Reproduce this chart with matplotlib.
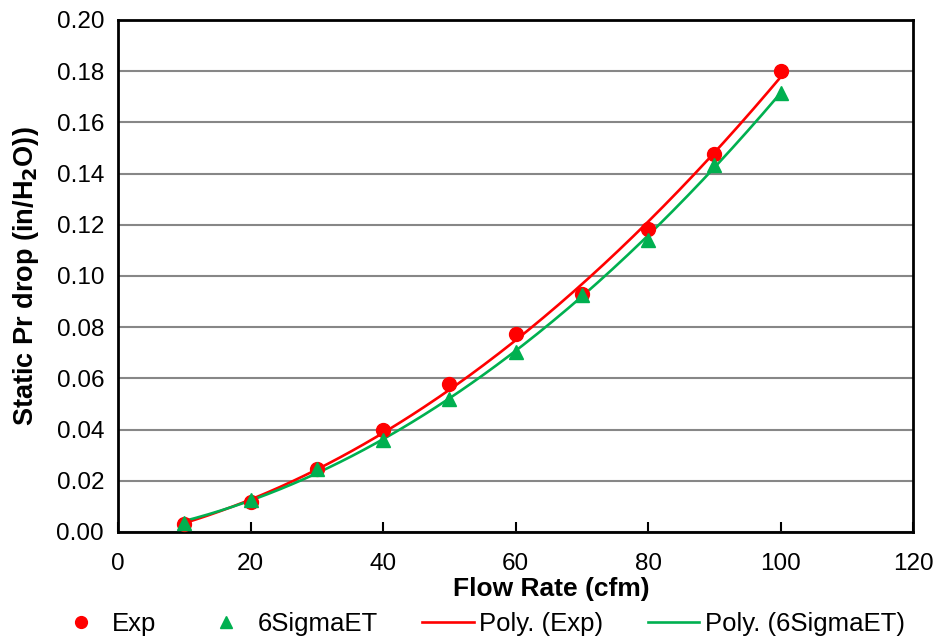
import matplotlib.pyplot as plt
import numpy as np

# ---------------------------------------------------------------------------
# Data
# ---------------------------------------------------------------------------
flow_rate = [10, 20, 30, 40, 50, 60, 70, 80, 90, 100]
exp_drop = [0.0030, 0.0117, 0.0246, 0.0398, 0.0578, 0.0773, 0.0930, 0.1184, 0.1477, 0.1800]
sigma_drop = [0.0035, 0.0125, 0.0245, 0.0359, 0.0520, 0.0703, 0.0926, 0.1140, 0.1434, 0.1715]

x_ticks = [0, 20, 40, 60, 80, 100, 120]
y_ticks = [0.00, 0.02, 0.04, 0.06, 0.08, 0.10, 0.12, 0.14, 0.16, 0.18, 0.20]

RED = '#ff0000'
GREEN = '#00b050'

plt.rcParams['font.family'] = ['Liberation Sans', 'DejaVu Sans']

fig = plt.figure(figsize=(9.37, 6.42), dpi=100)
ax = fig.add_axes([118 / 937, 1 - 532 / 642, (913 - 118) / 937, (532 - 20) / 642])

ax.plot(flow_rate, exp_drop, 'o', color=RED, markersize=10, label='Exp', zorder=4)
ax.plot(flow_rate, sigma_drop, '^', color=GREEN, markersize=10, label='6SigmaET', zorder=4)

# 2nd order polynomial trendlines
xs = np.linspace(flow_rate[0], flow_rate[-1], 200)
p_exp = np.polyfit(flow_rate, exp_drop, 2)
p_sig = np.polyfit(flow_rate, sigma_drop, 2)
ax.plot(xs, np.polyval(p_exp, xs), color=RED, lw=1.9, label='Poly. (Exp)', zorder=3)
ax.plot(xs, np.polyval(p_sig, xs), color=GREEN, lw=1.9, label='Poly. (6SigmaET)', zorder=3)

ax.set_xlim(0, 120)
ax.set_ylim(0, 0.20)
ax.set_xticks(x_ticks)
ax.set_yticks(y_ticks)
ax.set_yticklabels([f'{v:.2f}' for v in y_ticks], fontsize=17.5)
ax.set_xticklabels([str(v) for v in x_ticks], fontsize=17.5)
ax.tick_params(axis='x', direction='in', length=7, width=1.5, pad=15)
ax.tick_params(axis='y', length=0, pad=10)
ax.yaxis.grid(True, color='#878787', lw=1.5)
ax.set_axisbelow(True)
for s in ax.spines.values():
    s.set_linewidth(2)
    s.set_color('black')

ax.set_xlabel('Flow Rate (cfm)', fontsize=19, fontweight='bold')
ax.xaxis.set_label_coords(0.545, -0.087)
ax.set_ylabel(r'Static Pr drop (in/H$_\mathbf{2}$O))', fontsize=19.5, fontweight='bold', labelpad=11)

leg = fig.legend(loc='center', bbox_to_anchor=(0.512, 1 - 624 / 642), ncol=4, frameon=False,
                 prop={'size': 18.5}, columnspacing=1.75, handlelength=2.0,
                 handletextpad=0.2, borderpad=0, markerscale=0.85)

fig.savefig('out.png', dpi=100)
